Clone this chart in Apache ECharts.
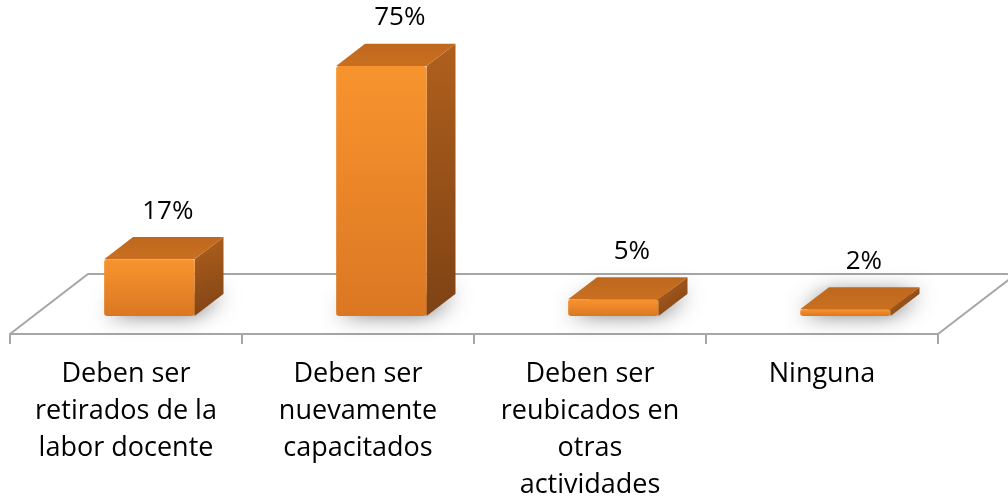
<!DOCTYPE html>
<html>
<head>
<meta charset="utf-8">
<script src="https://cdn.jsdelivr.net/npm/echarts@6/dist/echarts.min.js"></script>
<style>
  html, body { margin: 0; padding: 0; background: #fff; }
  #main { width: 1008px; height: 504px; }
</style>
</head>
<body>
<div id="main"></div>
<script>
// datos del gráfico
const categories = [
  'Deben ser\nretirados de la\nlabor docente',
  'Deben ser\nnuevamente\ncapacitados',
  'Deben ser\nreubicados en\notras\nactividades',
  'Ninguna'
];
const values = [17, 75, 5, 2];
const valueLabels = ['17%', '75%', '5%', '2%'];

// proyección oblicua del "piso" 3D (px)
const FLOOR_DX = 78, FLOOR_DY = -60;
const BAR_FRONT = 0.3, BAR_BACK = 0.67; // posición de la barra dentro de la profundidad del piso
const FLOOR_DROP = -BAR_FRONT * FLOOR_DY; // del fondo del grid al borde frontal del piso
const FONT = '"Open Sans", sans-serif';

const chart = echarts.init(document.getElementById('main'));

// piso: solo bordes izquierdo, trasero y derecho (el frontal es la línea del eje)
function renderFloor(params, api) {
  const cs = params.coordSys;
  const yf = cs.y + cs.height + FLOOR_DROP;
  const yb = yf + FLOOR_DY;
  return {
    type: 'polyline',
    silent: true,
    shape: {
      points: [
        [cs.x, yf],
        [cs.x + FLOOR_DX, yb],
        [cs.x + cs.width + FLOOR_DX, yb],
        [cs.x + cs.width, yf]
      ]
    },
    style: { stroke: '#a6a6a6', lineWidth: 2, fill: null }
  };
}

// barra 3D: cara frontal, superior y lateral + sombra + etiqueta
function renderBar(params, api) {
  const idx = api.value(0);
  const base = api.coord([idx, 0]);
  const top = api.coord([idx, api.value(1)]);
  const band = api.size([1, 0])[0];
  const w = band * 0.39;
  const cx = base[0] + BAR_FRONT * FLOOR_DX;
  const x0 = cx - w / 2, x1 = cx + w / 2;
  const yb = base[1], yt = top[1];
  const dx = (BAR_BACK - BAR_FRONT) * FLOOR_DX;
  const dy = (BAR_BACK - BAR_FRONT) * FLOOR_DY;

  return {
    type: 'group',
    children: [
      { // sombra difusa en la base (oculta por la barra, solo se ve el desenfoque)
        type: 'polygon',
        shape: { points: [[x0 + 2, yb - 2], [x1, yb - 2], [x1 + dx, yb + dy], [x0 + dx, yb + dy]] },
        style: { fill: 'rgba(90,90,90,0.8)', shadowBlur: 22, shadowColor: 'rgba(0,0,0,0.75)' }
      },
      { // cara lateral
        type: 'polygon',
        shape: { points: [[x1, yt], [x1 + dx, yt + dy], [x1 + dx, yb + dy], [x1, yb]] },
        style: {
          fill: new echarts.graphic.LinearGradient(0, 0, 1, 1, [
            { offset: 0, color: '#b0601d' },
            { offset: 1, color: '#7e4214' }
          ])
        }
      },
      { // cara superior
        type: 'polygon',
        shape: { points: [[x0, yt], [x1, yt], [x1 + dx, yt + dy], [x0 + dx, yt + dy]] },
        style: {
          fill: new echarts.graphic.LinearGradient(0, 1, 0, 0, [
            { offset: 0, color: '#c96f20' },
            { offset: 1, color: '#be681e' }
          ])
        }
      },
      { // cara frontal
        type: 'rect',
        shape: { x: x0, y: yt, width: w, height: yb - yt, r: 3 },
        style: {
          fill: new echarts.graphic.LinearGradient(0, 0, 0, 1, [
            { offset: 0, color: '#f8942e' },
            { offset: 1, color: '#db7722' }
          ])
        }
      },
      { // etiqueta de valor
        type: 'text',
        style: {
          text: valueLabels[params.dataIndex],
          x: cx + dx / 2 + 4,
          y: yt + dy - 26,
          align: 'center',
          verticalAlign: 'middle',
          fontSize: 26,
          fontFamily: FONT,
          fill: '#000'
        }
      }
    ]
  };
}

const option = {
  animation: false,
  grid: { left: 10, right: 70, top: 49.2, bottom: 186, containLabel: false },
  xAxis: {
    type: 'category',
    data: categories,
    offset: FLOOR_DROP,
    axisLine: { onZero: false, lineStyle: { color: '#a6a6a6', width: 2 } },
    axisTick: { show: true, length: 10, interval: 0, lineStyle: { color: '#a6a6a6', width: 2 } },
    axisLabel: {
      interval: 0,
      margin: 22,
      fontSize: 27,
      lineHeight: 37,
      fontFamily: FONT,
      color: '#000'
    },
    splitLine: { show: false }
  },
  yAxis: {
    type: 'value',
    min: 0,
    max: 80,
    show: false
  },
  series: [
    {
      type: 'custom',
      z: 1,
      silent: true,
      renderItem: renderFloor,
      data: [0]
    },
    {
      type: 'custom',
      z: 2,
      renderItem: renderBar,
      encode: { x: 0, y: 1 },
      data: values.map((v, i) => [i, v])
    }
  ]
};

chart.setOption(option);
</script>
</body>
</html>
